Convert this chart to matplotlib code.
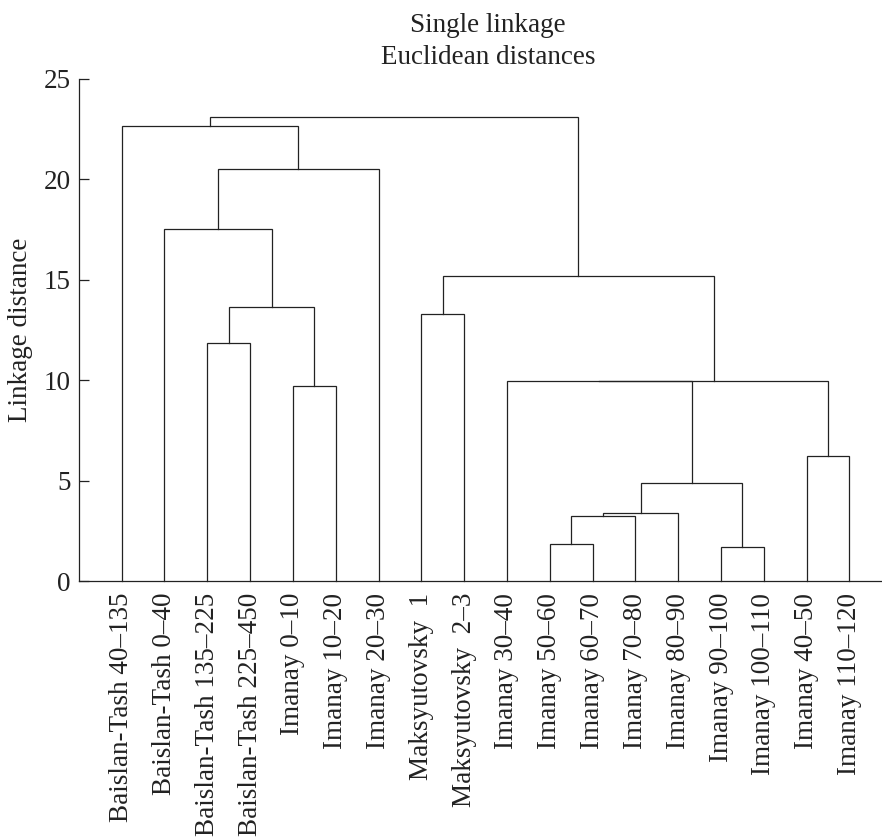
import matplotlib
matplotlib.use("Agg")
from matplotlib import pyplot as plt

plt.rcParams['font.family'] = ['Liberation Serif', 'DejaVu Serif']

LABELS = ("Baislan-Tash 40–135", "Baislan-Tash 0–40", "Baislan-Tash 135–225",
          "Baislan-Tash 225–450", "Imanay 0–10", "Imanay 10–20", "Imanay 20–30",
          "Maksyutovsky  1", "Maksyutovsky  2–3", "Imanay 30–40", "Imanay 50–60",
          "Imanay 60–70", "Imanay 70–80", "Imanay 80–90", "Imanay 90–100",
          "Imanay 100–110", "Imanay 40–50", "Imanay 110–120")  # листья по порядку

# объединения кластеров: (левый, правый, расстояние), новые id начинаются с 18
MERGE_LEFT = [14, 10, 19, 20, 21, 16, 4, 9, 25, 2, 7, 27, 28, 1, 31, 0, 33]
MERGE_RIGHT = [15, 11, 12, 13, 18, 17, 5, 22, 23, 3, 8, 24, 26, 29, 6, 32, 30]
MERGE_DIST = [1.69, 1.86, 3.22, 3.39, 4.87, 6.22, 9.72, 9.94, 9.95, 11.83,
              13.30, 13.67, 15.20, 17.55, 20.52, 22.68, 23.10]

n = len(LABELS)
pos_x = {i: float(i) for i in range(n)}
pos_y = {i: 0.0 for i in range(n)}

fig = plt.figure(figsize=(8.82, 8.38), dpi=100)
ax = fig.add_axes([79.3 / 882, 1 - 581 / 838, 1 - 79.3 / 882, 502 / 838])

for k, (a, b, h) in enumerate(zip(MERGE_LEFT, MERGE_RIGHT, MERGE_DIST)):
    xa, xb = pos_x[a], pos_x[b]
    ax.plot([xa, xa, xb, xb], [pos_y[a], h, h, pos_y[b]], color="#222222", lw=0.9,
            solid_joinstyle="miter", clip_on=False)
    pos_x[n + k] = (xa + xb) / 2
    pos_y[n + k] = h

ax.set_xlim(-0.99, 17.76)
ax.set_ylim(0, 25)
ax.set_yticks(range(0, 26, 5))
ax.set_xticks(range(n))
ax.set_xticklabels(LABELS, rotation=90, fontsize=19.5, color="#222222")
ax.tick_params(axis="x", length=0, pad=8.5)
ax.tick_params(axis="y", direction="in", length=7.2, width=0.9, pad=6,
               labelsize=19.5, labelcolor="#222222", color="#222222")
ax.spines["top"].set_visible(False)
ax.spines["right"].set_visible(False)
for s in ("left", "bottom"):
    ax.spines[s].set_linewidth(0.9)
    ax.spines[s].set_color("#222222")

ax.set_ylabel("Linkage distance", fontsize=19.5, color="#222222")
ax.yaxis.set_label_coords(-46 / 802.7, 0.5)
fig.text(488 / 882, 1 - 32.5 / 838, "Single linkage", ha="center", va="baseline",
         fontsize=19.5, color="#222222")
fig.text(488 / 882, 1 - 64.3 / 838, "Euclidean distances", ha="center", va="baseline",
         fontsize=19.5, color="#222222")

plt.savefig("out.png", dpi=100)
